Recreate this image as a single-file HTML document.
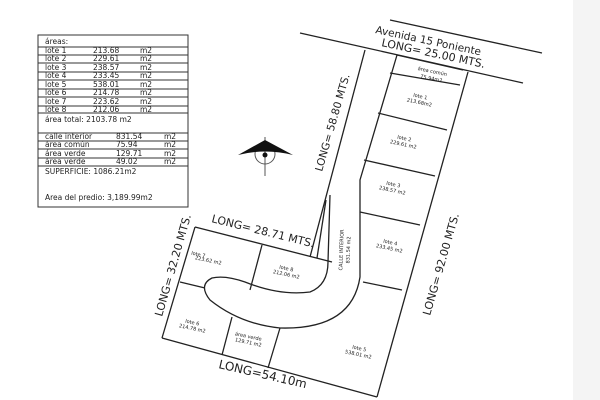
<!DOCTYPE html>
<html><head><meta charset="utf-8"><style>
html,body{margin:0;padding:0;background:#fff}
svg{display:block}
text{font-family:"DejaVu Sans","Liberation Sans",sans-serif;fill:#222}
</style></head><body>
<svg width="600" height="400" viewBox="0 0 600 400" xmlns="http://www.w3.org/2000/svg">
<rect width="600" height="400" fill="#fff"/>
<rect x="573" y="0" width="27" height="400" fill="#f4f4f4"/>
<!-- table -->
<g stroke="#333" stroke-width="1" fill="none">
<rect x="38" y="35" width="150" height="172"/>
<line x1="38" y1="47" x2="188" y2="47"/>
<line x1="38" y1="55" x2="188" y2="55"/>
<line x1="38" y1="63" x2="188" y2="63"/>
<line x1="38" y1="72" x2="188" y2="72"/>
<line x1="38" y1="80" x2="188" y2="80"/>
<line x1="38" y1="89" x2="188" y2="89"/>
<line x1="38" y1="97" x2="188" y2="97"/>
<line x1="38" y1="106" x2="188" y2="106"/>
<line x1="38" y1="113" x2="188" y2="113"/>
<line x1="38" y1="133" x2="188" y2="133"/>
<line x1="38" y1="141" x2="188" y2="141"/>
<line x1="38" y1="149" x2="188" y2="149"/>
<line x1="38" y1="158" x2="188" y2="158"/>
<line x1="38" y1="166" x2="188" y2="166"/>
</g>
<g font-size="7.5">
<text x="45" y="44">áreas:</text>
<text x="45" y="53">lote 1</text><text x="93" y="53">213.68</text><text x="140" y="53">m2</text>
<text x="45" y="61">lote 2</text><text x="93" y="61">229.61</text><text x="140" y="61">m2</text>
<text x="45" y="70">lote 3</text><text x="93" y="70">238.57</text><text x="140" y="70">m2</text>
<text x="45" y="78">lote 4</text><text x="93" y="78">233.45</text><text x="140" y="78">m2</text>
<text x="45" y="87">lote 5</text><text x="93" y="87">538.01</text><text x="140" y="87">m2</text>
<text x="45" y="95">lote 6</text><text x="93" y="95">214.78</text><text x="140" y="95">m2</text>
<text x="45" y="104">lote 7</text><text x="93" y="104">223.62</text><text x="140" y="104">m2</text>
<text x="45" y="112">lote 8</text><text x="93" y="112">212.06</text><text x="140" y="112">m2</text>
<text x="45" y="122">área total:  2103.78  m2</text>
<text x="45" y="139">calle interior</text><text x="116" y="139">831.54</text><text x="164" y="139">m2</text>
<text x="45" y="147">área común</text><text x="116" y="147">75.94</text><text x="164" y="147">m2</text>
<text x="45" y="156">área verde</text><text x="116" y="156">129.71</text><text x="164" y="156">m2</text>
<text x="45" y="164">área verde</text><text x="116" y="164">49.02</text><text x="164" y="164">m2</text>
<text x="45" y="174">SUPERFICIE:  1086.21m2</text>
<text x="45" y="200">Area del predio:  3,189.99m2</text>
</g>
<!-- compass -->
<line x1="265" y1="137" x2="265" y2="176" stroke="#555" stroke-width="1"/>
<circle cx="265" cy="154" r="10" fill="none" stroke="#555"/>
<path d="M238 155 L265 140 L293 155 Q265 148 238 155Z" fill="#111"/>
<circle cx="265" cy="155" r="2.5" fill="#111"/>
<!-- drawing -->
<g stroke="#222" stroke-width="1.3" fill="none">
<line x1="390" y1="20" x2="542" y2="53"/>
<line x1="300" y1="33" x2="523" y2="83"/>
<line x1="365" y1="50" x2="310" y2="257"/>
<line x1="397" y1="55" x2="463" y2="70"/>
<line x1="390" y1="73" x2="460" y2="85"/>
<line x1="468" y1="72" x2="377" y2="397"/>
<path d="M397 55 L360 180 L360 277 Q352 330 280 328 Q240 324 210 300 Q198 285 212 278 Q225 275 245 282 Q280 296 310 292 Q328 285 328 262 L330 195"/>
<line x1="378" y1="113" x2="447" y2="130"/>
<line x1="364" y1="160" x2="435" y2="176"/>
<line x1="360" y1="212" x2="420" y2="225"/>
<line x1="363" y1="282" x2="402" y2="290"/>
<line x1="195" y1="227" x2="332" y2="262"/>
<line x1="195" y1="227" x2="162" y2="338"/>
<line x1="162" y1="338" x2="377" y2="397"/>
<line x1="262" y1="245" x2="250" y2="290"/>
<line x1="180" y1="282" x2="205" y2="288"/>
<line x1="232" y1="317" x2="222" y2="355"/>
<line x1="280" y1="328" x2="268" y2="368"/>
<line x1="326" y1="200" x2="317" y2="258"/>
</g>
<g font-size="10.5">
<text transform="translate(375,33) rotate(12)">Avenida 15 Poniente</text>
<text transform="translate(381,46) rotate(12)" font-size="11">LONG= 25.00 MTS.</text>
<text transform="translate(322,172) rotate(-74)">LONG= 58.80 MTS.</text>
<text transform="translate(211,222) rotate(14)" font-size="11">LONG= 28.71 MTS.</text>
<text transform="translate(162,317) rotate(-74)" font-size="11">LONG= 32.20 MTS.</text>
<text transform="translate(430,316) rotate(-74)" font-size="11">LONG= 92.00 MTS.</text>
<text transform="translate(218,368) rotate(13)" font-size="12">LONG=54.10m</text>
</g>
<g font-size="5" text-anchor="middle">
<text transform="translate(432,73) rotate(12)">área común</text>
<text transform="translate(431,80) rotate(12)">75.94m2</text>
<text transform="translate(420,98) rotate(12)">lote 1</text>
<text transform="translate(419,104) rotate(12)">213.68m2</text>
<text transform="translate(404,140) rotate(12)">lote 2</text>
<text transform="translate(403,146) rotate(12)">229.61 m2</text>
<text transform="translate(393,186) rotate(12)">lote 3</text>
<text transform="translate(392,192) rotate(12)">238.57 m2</text>
<text transform="translate(390,244) rotate(12)">lote 4</text>
<text transform="translate(389,250) rotate(12)">233.45 m2</text>
<text transform="translate(359,350) rotate(12)">lote 5</text>
<text transform="translate(358,356) rotate(12)">538.01 m2</text>
<text transform="translate(198,256) rotate(12)">lote 7</text>
<text transform="translate(208,262) rotate(12)">223.62 m2</text>
<text transform="translate(286,270) rotate(12)">lote 8</text>
<text transform="translate(286,276) rotate(12)">212.06 m2</text>
<text transform="translate(192,324) rotate(12)">lote 6</text>
<text transform="translate(192,330) rotate(12)">214.78 m2</text>
<text transform="translate(248,338) rotate(12)">área verde</text>
<text transform="translate(248,344) rotate(12)">129.71 m2</text>
<text transform="translate(343,250) rotate(-88)">CALLE INTERIOR</text>
<text transform="translate(350,250) rotate(-88)">831.54 m2</text>
</g>
</svg>
</body></html>
